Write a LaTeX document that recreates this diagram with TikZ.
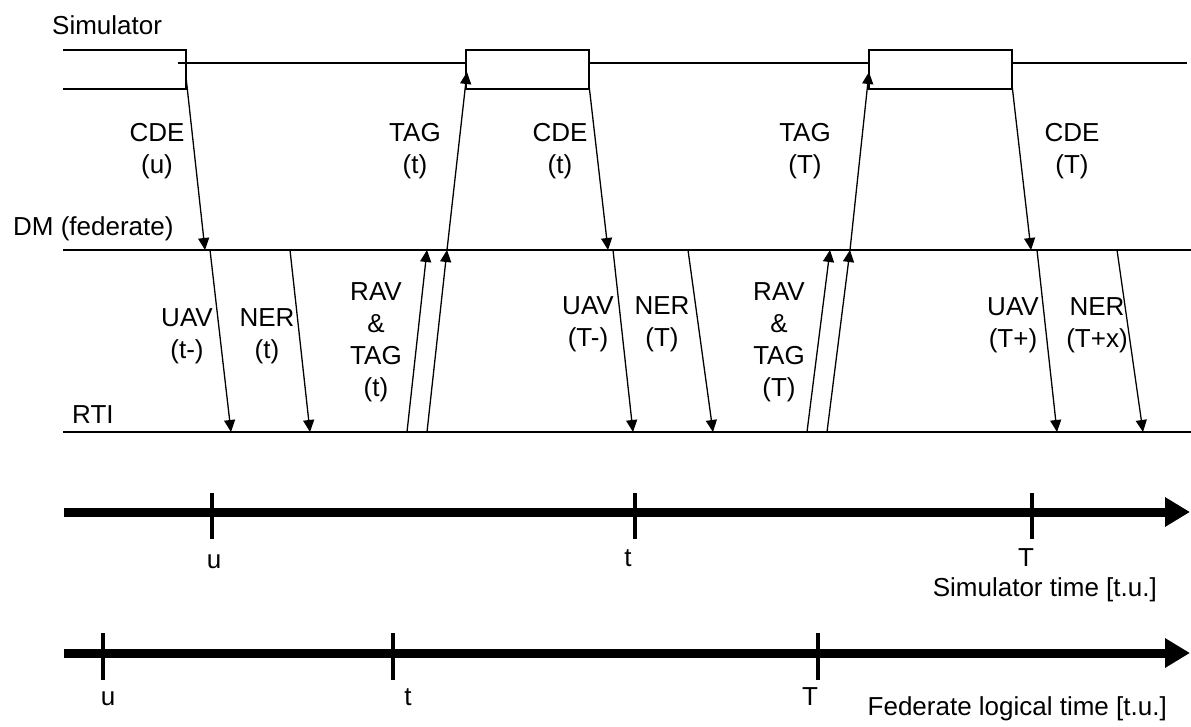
\documentclass[tikz,border=0pt]{standalone}
\usepackage{fontspec}
\setmainfont{Liberation Sans}
\usepackage{tikz}
\usetikzlibrary{arrows.meta, positioning, calc}

\newcommand{\labfont}{\fontsize{26}{32}\selectfont}

\begin{document}
\begin{tikzpicture}[
    x=1pt, y=-1pt,
    lbl/.style={font=\labfont, align=center, inner sep=0pt},
    life/.style={line width=1.8pt},
    msg/.style={-{Triangle[length=12pt, width=11pt]}, line width=1.3pt},
    taxis/.style={line width=9pt, -{Triangle[length=25pt, width=28pt]}},
    tickmark/.style={line width=3.5pt}
]
\useasboundingbox (0,0) rectangle (1191,727);

% Lifelines
\draw[life] (63,50) -| (186,89) -- (63,89);
\draw[life] (178,63) -- (1187,63);
\draw[life, fill=white] (466,50) rectangle (589,89);
\draw[life, fill=white] (869,50) rectangle (1012,89);
\draw[life] (63,250) -- (1191,250);
\draw[life] (63,432) -- (1191,432);

\node[lbl, anchor=base west] (simname) at (52,35) {Simulator};
\node[lbl, anchor=base west] (dmname) at (13,236) {DM (federate)};
\node[lbl, anchor=base west] (rtiname) at (72,423) {RTI};

% Message end points (a = start, b = end)
\foreach \n/\xa/\ya/\xb/\yb in {
    cdeu/186/77/205/250, uavt/210/250/231/432, nert/290/250/310/432,
    ravt/407/432/427/250, tagta/427/432/447/250, tagtb/447/250/467/72,
    cdet/589/85/608/250, uavTm/613/250/633/432, nerT/688/250/713/432,
    ravT/807/432/830/250, tagTa/827/432/850/250, tagTb/850/250/869/72,
    cdeT/1012/85/1031/250, uavTp/1037/250/1057/432, nerTx/1117/250/1143/432}
{
    \coordinate (\n-a) at (\xa,\ya);
    \coordinate (\n-b) at (\xb,\yb);
}

% Messages
\foreach \m in {cdeu, uavt, nert, ravt, tagta, tagtb, cdet, uavTm, nerT,
                ravT, tagTa, tagTb, cdeT, uavTp, nerTx}
    \draw[msg] (\m-a) -- (\m-b);

% Message labels
\node[lbl] (lcdeu) at (157,151) {CDE\\(u)};
\node[lbl] (ltagt) at (415,151) {TAG\\(t)};
\node[lbl] (lcdet) at (560,151) {CDE\\(t)};
\node[lbl] (ltagT) at (805,151) {TAG\\(T)};
\node[lbl] (lcdeT) at (1072,151) {CDE\\(T)};

\node[lbl] (luavt) at (187,336) {UAV\\(t-)};
\node[lbl] (lnert) at (267,336) {NER\\(t)};
\node[lbl] (lravt) at (376,342) {RAV\\\&\\TAG\\(t)};
\node[lbl] (luavTm) at (588,324) {UAV\\(T-)};
\node[lbl] (lnerT) at (662,324) {NER\\(T)};
\node[lbl] (lravT) at (779,342) {RAV\\\&\\TAG\\(T)};
\node[lbl] (luavTp) at (1013,325) {UAV\\(T+)};
\node[lbl] (lnerTx) at (1097,325) {NER\\(T+x)};

% Simulator time axis
\coordinate (sstart) at (64,512);
\coordinate (send) at (1190,512);
\draw[taxis] (sstart) -- (send);
\foreach \n/\x in {su/212, st/635, sT/1032} {
    \coordinate (\n) at (\x,512);
    \draw[tickmark] ($(\n)+(0,-19)$) -- ($(\n)+(0,27)$);
}
\node[lbl, anchor=base] (lsu) at (214,568) {u};
\node[lbl, anchor=base] (lst) at (628,566) {t};
\node[lbl, anchor=base] (lsT) at (1026,566) {T};
\node[lbl, anchor=base east] (simtime) at (1157,596) {Simulator time [t.u.]};

% Federate logical time axis
\coordinate (fstart) at (64,653);
\coordinate (fend) at (1190,653);
\draw[taxis] (fstart) -- (fend);
\foreach \n/\x in {fu/103, ft/393, fT/818} {
    \coordinate (\n) at (\x,653);
    \draw[tickmark] ($(\n)+(0,-20)$) -- ($(\n)+(0,27)$);
}
\node[lbl, anchor=base] (lfu) at (108,705) {u};
\node[lbl, anchor=base] (lft) at (408,705) {t};
\node[lbl, anchor=base] (lfT) at (810,705) {T};
\node[lbl, anchor=base east] (fedtime) at (1167,715) {Federate logical time [t.u.]};

\end{tikzpicture}
\end{document}
